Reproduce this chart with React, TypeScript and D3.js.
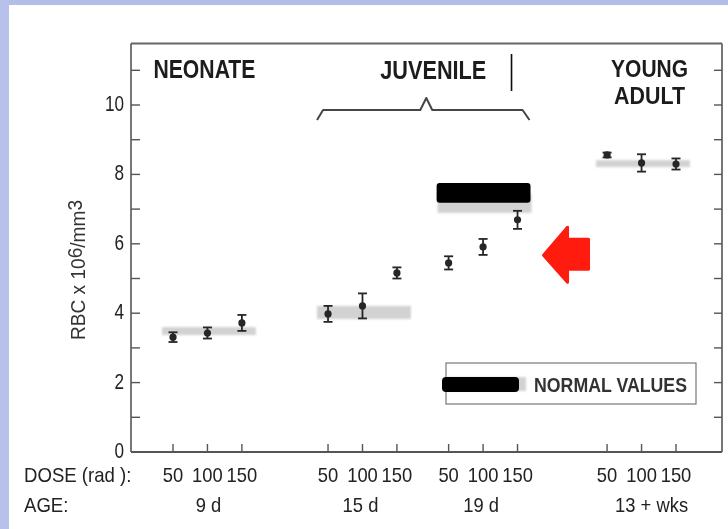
import React from "react";
import * as d3 from "d3";

const W = 728;
const H = 529;

// Dose levels per age group and age labels
const doseLabels = ["50", "100", "150"];
const ageLabels = ["9 d", "15 d", "19 d", "13 + wks"];
const groupTitles = ["NEONATE", "JUVENILE", "YOUNG|ADULT"];

// Horizontal slot of each measurement (three doses per age group)
const slots = [0, 1, 2, 4.5, 5.5, 6.5, 8, 9, 10, 12.6, 13.6, 14.6];
const groupOf = [0, 0, 0, 1, 1, 1, 2, 2, 2, 3, 3, 3];

// RBC (x10^6/mm3) mean and error per measurement
const rbcMean = [3.31, 3.43, 3.72, 3.98, 4.21, 5.16, 5.45, 5.91, 6.69, 8.56, 8.33, 8.3];
const rbcErr = [0.14, 0.16, 0.23, 0.23, 0.36, 0.16, 0.19, 0.23, 0.26, 0.07, 0.25, 0.16];

// Normal value range per age group
const normalLow = [3.37, 3.83, 6.89, 8.21];
const normalHigh = [3.6, 4.21, 7.45, 8.41];

const yLabelValues = [0, 2, 4, 6, 8, 10];
const yTickValues = d3.range(0, 12);

const FONT = "'Liberation Sans', Arial, 'DejaVu Sans', sans-serif";
const AXIS = "#555";
const INK = "#262626";

const left = 131;
const right = 722;
const top = 43.5;
const bottom = 452;

const x = d3.scaleLinear().domain([0, 14.6]).range([173, 676]);
const y = d3.scaleLinear().domain([0, 10]).range([bottom, 105]);

function Narrow({ x: tx, y: ty, sx = 0.8, anchor = "middle", size = 21, weight = 400, fill = INK, children }: any) {
  return (
    <text
      transform={`translate(${tx},${ty}) scale(${sx},1)`}
      textAnchor={anchor}
      fontFamily={FONT}
      fontSize={size}
      fontWeight={weight}
      fill={fill}
    >
      {children}
    </text>
  );
}

export default function App() {
  const groups = d3.range(4).map((g) => {
    const idx = groupOf.map((v, i) => (v === g ? i : -1)).filter((i) => i >= 0);
    return { g, first: slots[idx[0]], mid: slots[idx[1]], last: slots[idx[2]] };
  });

  const bandX0 = (g: number) => x(groups[g].first) - 11;
  const bandX1 = (g: number) => x(groups[g].last) + 14;

  // brace over the juvenile groups
  const bx0 = x(groups[1].first) - 11;
  const bx1 = x(groups[2].last) + 12;
  const bm = (bx0 + bx1) / 2 + 3;
  const yb = 110;
  const bracePath = `M${bx0},${yb + 10} L${bx0 + 6},${yb} L${bm - 6},${yb} L${bm},${yb - 12} L${bm + 6},${yb} L${bx1 - 7},${yb} L${bx1},${yb + 10}`;

  // arrow pointing at the 19 d / 150 rad point
  const ax = x(groups[2].last) + 26;
  const ay = y(5.67);
  const arrow = [
    [0, 0], [24, -28], [24, -16], [45, -16], [45, 14], [24, 14], [24, 27],
  ].map(([dx, dy]) => `${ax + dx},${ay + dy}`).join(" ");

  return (
    <svg width={W} height={H} style={{ position: "absolute", left: 0, top: 0 }}>
      <defs>
        <filter id="soft" x="-20%" y="-50%" width="140%" height="200%">
          <feGaussianBlur stdDeviation="1.3" />
        </filter>
        <filter id="scan" x="-5%" y="-5%" width="110%" height="110%">
          <feGaussianBlur stdDeviation="0.45" />
        </filter>
      </defs>
      <rect x={0} y={0} width={W} height={H} fill="#fff" />
      {/* lavender page frame */}
      <rect x={0} y={0} width={W} height={5} fill="#b3bee8" />
      <rect x={0} y={0} width={9} height={H} fill="#b7c2ea" />

      {/* normal-value bands */}
      <g filter="url(#soft)">
        {groups.map(({ g }) => (
          <rect
            key={g}
            x={bandX0(g)}
            width={bandX1(g) - bandX0(g)}
            y={y(normalHigh[g])}
            height={y(normalLow[g]) - y(normalHigh[g])}
            fill="#d2d2d2"
          />
        ))}
      </g>
      {/* black bar over the 19 d band */}
      <rect
        x={bandX0(2) - 1}
        width={bandX1(2) - bandX0(2)}
        y={y(7.75)}
        height={y(7.18) - y(7.75)}
        rx={3}
        fill="#000"
      />

      <g filter="url(#scan)">
        {/* frame */}
        <line x1={left} x2={right} y1={top} y2={top} stroke="#666" strokeWidth={2.2} />
        <line x1={left} x2={left} y1={top} y2={bottom} stroke={AXIS} strokeWidth={1.6} />
        <line x1={right} x2={right} y1={top} y2={bottom} stroke={AXIS} strokeWidth={1.6} />
        <line x1={left} x2={right} y1={bottom} y2={bottom} stroke={AXIS} strokeWidth={1.8} />

        {/* y ticks, left and right */}
        {yTickValues.map((v) => (
          <g key={v}>
            <line x1={left} x2={left + 9} y1={y(v)} y2={y(v)} stroke={AXIS} strokeWidth={1.4} />
            <line x1={right - 8} x2={right} y1={y(v)} y2={y(v)} stroke={AXIS} strokeWidth={1.4} />
          </g>
        ))}
        {yLabelValues.map((v) => (
          <Narrow key={v} x={124} y={y(v) + 6} anchor="end" size={22} sx={0.78} fill="#222">
            {v}
          </Narrow>
        ))}

        {/* y title */}
        <text
          transform={`translate(85,340) rotate(-90)`}
          fontFamily={FONT}
          fontSize={20}
          fill="#333"
          textLength={140}
          lengthAdjust="spacingAndGlyphs"
        >
          RBC x 10<tspan dy={-3}>6</tspan>
          <tspan dy={3}>/mm</tspan>
          <tspan dy={-3}>3</tspan>
        </text>

        {/* x ticks */}
        {slots.map((s, i) => (
          <line key={i} x1={x(s)} x2={x(s)} y1={bottom} y2={bottom - 8} stroke={AXIS} strokeWidth={1.4} />
        ))}

        {/* error bars and means */}
        {slots.map((s, i) => {
          const cx = x(s);
          const y0 = y(rbcMean[i] - rbcErr[i]);
          const y1 = y(rbcMean[i] + rbcErr[i]);
          return (
            <g key={i} stroke={INK} strokeWidth={1.8}>
              <line x1={cx} x2={cx} y1={y0} y2={y1} />
              <line x1={cx - 4.5} x2={cx + 4.5} y1={y0} y2={y0} />
              <line x1={cx - 4.5} x2={cx + 4.5} y1={y1} y2={y1} />
              <circle cx={cx} cy={y(rbcMean[i])} r={3.6} fill={INK} stroke="none" />
            </g>
          );
        })}

        {/* group headings */}
        <text x={x(groups[0].mid) - 3} y={78} textAnchor="middle" fontFamily={FONT} fontSize={25} fontWeight={700}
          fill="#1e1e1e" textLength={102} lengthAdjust="spacingAndGlyphs">
          {groupTitles[0]}
        </text>
        <text x={bm + 7} y={79} textAnchor="middle" fontFamily={FONT} fontSize={25} fontWeight={700}
          fill="#1e1e1e" textLength={106} lengthAdjust="spacingAndGlyphs">
          {groupTitles[1]}
        </text>
        {groupTitles[2].split("|").map((t, k) => (
          <text key={t} x={x(groups[3].mid) + 8} y={77 + k * 27} textAnchor="middle" fontFamily={FONT} fontSize={24}
            fontWeight={700} fill="#1e1e1e" textLength={k === 0 ? 77 : 71} lengthAdjust="spacingAndGlyphs">
            {t}
          </text>
        ))}
        <line x1={x(groups[2].last) - 6} x2={x(groups[2].last) - 6} y1={54} y2={91} stroke="#111" strokeWidth={1.6} />
        <path d={bracePath} fill="none" stroke="#444" strokeWidth={2} strokeLinejoin="round" />

        {/* legend */}
        <rect x={446} y={363} width={250} height={41} fill="#fff" stroke="#777" strokeWidth={1.2} />
        <rect x={446} y={377} width={80} height={14} fill="#d2d2d2" filter="url(#soft)" />
        <text x={534} y={392} fontFamily={FONT} fontSize={21} fontWeight={700} fill="#333"
          textLength={153} lengthAdjust="spacingAndGlyphs">
          NORMAL VALUES
        </text>

        {/* bottom labels */}
        <Narrow x={24} y={482} anchor="start" size={20} sx={0.93} fill="#222">DOSE (rad ):</Narrow>
        <Narrow x={24} y={512} anchor="start" size={20} sx={0.93} fill="#222">AGE:</Narrow>
        {slots.map((s, i) => (
          <Narrow key={i} x={x(s)} y={482} size={20} sx={0.92} fill="#222">
            {doseLabels[i % 3]}
          </Narrow>
        ))}
        {groups.map(({ g, mid }) => (
          <Narrow key={g} x={x(mid) + (g === 3 ? 10 : g === 0 ? 1 : -2)} y={512} size={20} sx={0.92} fill="#222">
            {ageLabels[g]}
          </Narrow>
        ))}
      </g>

      {/* legend swatch cover */}
      <rect x={442} y={377} width={77} height={15} rx={4} fill="#000" />

      {/* red arrow */}
      <polygon points={arrow} fill="#ff1b0e" stroke="#ff1b0e" strokeWidth={3} strokeLinejoin="round" />
    </svg>
  );
}
